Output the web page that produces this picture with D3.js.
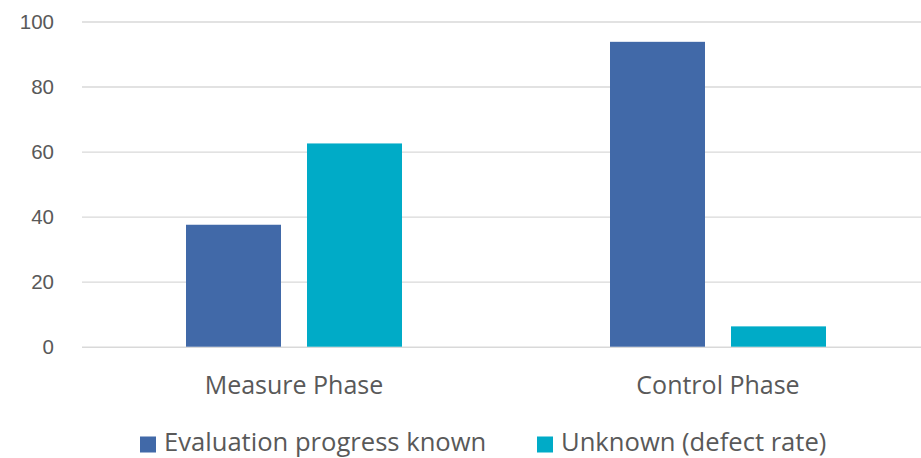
<!DOCTYPE html>
<html>
<head>
<meta charset="utf-8">
<script src="https://cdn.jsdelivr.net/npm/d3@7"></script>
<style>
  html, body { margin: 0; padding: 0; background: #fff; }
  svg { display: block; }
  text { font-family: "Open Sans", "Noto Sans", sans-serif; fill: #595959; }
  .ytick text { font-family: "Liberation Sans", Arial, sans-serif; }
</style>
</head>
<body>
<svg id="chart" width="921" height="458"></svg>
<script>
// Chart data
const categories = ["Measure Phase", "Control Phase"];
const seriesNames = ["Evaluation progress known", "Unknown (defect rate)"];
const knownValues = [37.5, 93.75];
const unknownValues = [62.5, 6.25];
const yTicks = [0, 20, 40, 60, 80, 100];
const seriesColors = ["#4169a8", "#00abc7"];

const svg = d3.select("#chart");
const margin = { left: 82, right: -9, top: 21.5, bottom: 111.3 };
const W = 921, H = 458;
const innerW = W - margin.left - margin.right;
const innerH = H - margin.top - margin.bottom;

const g = svg.append("g").attr("transform", `translate(${margin.left},${margin.top})`);

const y = d3.scaleLinear().domain([0, 100]).range([innerH, 0]);
const x0 = d3.scaleBand().domain(categories).range([0, innerW]).paddingInner(0).paddingOuter(0);
const x1 = d3.scaleBand().domain(seriesNames).range([0, 216]).paddingInner(26 / 121).paddingOuter(0);

// Gridlines and value labels
const yAxis = d3.axisLeft(y).tickValues(yTicks).tickSize(-innerW).tickPadding(28).tickFormat(d3.format("d"));
const ya = g.append("g").attr("class", "ytick").call(yAxis);
ya.select(".domain").remove();
ya.selectAll(".tick line").attr("stroke", "#d9d9d9").attr("stroke-width", 1.4);
ya.selectAll(".tick text").attr("font-size", 20.5).style("fill", "#595959");

// Bars
const rows = categories.map((c, i) => ({ cat: c, vals: [knownValues[i], unknownValues[i]] }));
const groups = g.selectAll(".grp").data(rows).join("g")
  .attr("transform", d => `translate(${x0(d.cat) + (x0.bandwidth() - 216) / 2},0)`);
groups.selectAll("rect").data(d => d.vals.map((v, j) => ({ v, s: seriesNames[j], j })))
  .join("rect")
  .attr("x", d => x1(d.s))
  .attr("width", x1.bandwidth())
  .attr("y", d => y(d.v))
  .attr("height", d => y(0) - y(d.v))
  .attr("fill", d => seriesColors[d.j]);

// Category labels
const xa = g.append("g").attr("transform", `translate(0,${innerH})`);
xa.selectAll("text").data(categories).join("text")
  .attr("x", d => x0(d) + x0.bandwidth() / 2)
  .attr("y", 47.6)
  .attr("text-anchor", "middle")
  .attr("font-size", 25)
  .text(d => d);

// Legend
const legendX = [140, 537];
const lg = svg.append("g");
seriesNames.forEach((name, i) => {
  lg.append("rect").attr("x", legendX[i]).attr("y", 436.5).attr("width", 16).attr("height", 16).attr("fill", seriesColors[i]);
  lg.append("text").attr("x", legendX[i] + 24).attr("y", 451).attr("font-size", 25.6).text(name);
});
</script>
</body>
</html>
